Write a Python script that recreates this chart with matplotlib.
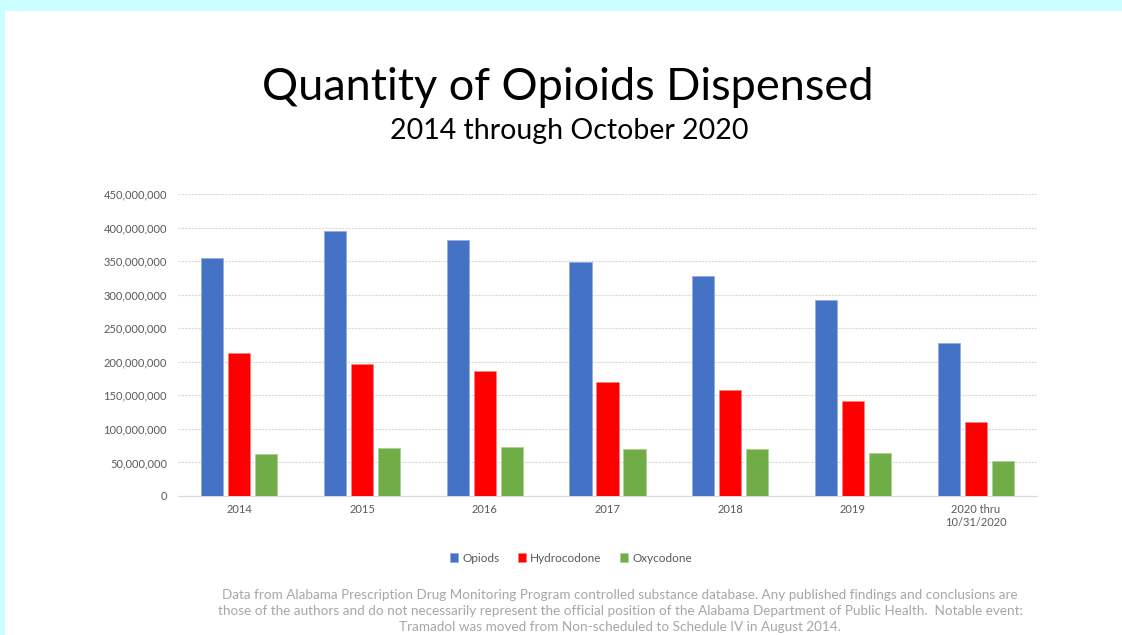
import matplotlib.pyplot as plt
import numpy as np
from matplotlib.ticker import FuncFormatter

# datos
years = ["2014", "2015", "2016", "2017", "2018", "2019", "2020 thru\n10/31/2020"]
opioids = [355e6, 395e6, 381e6, 349e6, 328e6, 292e6, 228e6]
hydrocodone = [213e6, 197e6, 186e6, 170e6, 158e6, 141e6, 110e6]
oxycodone = [63e6, 72e6, 73e6, 70e6, 70e6, 64e6, 52e6]

plt.rcParams['font.family'] = ['Lato', 'DejaVu Sans']

fig = plt.figure(figsize=(11.22, 6.35), dpi=100)
fig.patch.set_facecolor('#CCFFFF')

# panel blanco
panel = fig.add_axes([5 / 1122, 0, 1 - 5 / 1122, 1 - 11 / 635])
panel.set_facecolor('white')
panel.set_xticks([])
panel.set_yticks([])
for s in panel.spines.values():
    s.set_visible(False)

ax = fig.add_axes([178 / 1122, 1 - 496 / 635, (1037 - 178) / 1122, (496 - 194) / 635])
ax.set_facecolor('none')

x = np.arange(len(years))
w = 0.18
ax.bar(x - 0.22, opioids, w, color='#4472C4', edgecolor='#8faadc', linewidth=0.5, label='Opiods', zorder=3)
ax.bar(x, hydrocodone, w, color='#FF0000', edgecolor='#ff8080', linewidth=0.5, label='Hydrocodone', zorder=3)
ax.bar(x + 0.22, oxycodone, w, color='#70AD47', edgecolor='#a9d18e', linewidth=0.5, label='Oxycodone', zorder=3)

ax.set_xlim(-0.5, len(years) - 0.5)
ax.set_ylim(0, 450e6)
ax.set_yticks(np.arange(0, 450e6 + 1, 50e6))
ax.yaxis.set_major_formatter(FuncFormatter(lambda v, p: f"{int(v):,}"))
ax.set_xticks(x)
ax.set_xticklabels(years)
ax.tick_params(axis='both', length=0, labelsize=8, colors='#595959', pad=8)
ax.tick_params(axis='x', pad=6)
ax.grid(axis='y', color='#d9d9d9', linestyle=(0, (2, 1)), linewidth=0.8, zorder=0)
for s in ['top', 'right', 'left']:
    ax.spines[s].set_visible(False)
ax.spines['bottom'].set_color('#d9d9d9')

leg = fig.legend(loc='center', bbox_to_anchor=(571 / 1122, 1 - 558 / 635), ncol=3, frameon=False,
                 fontsize=8.5, handlelength=0.7, handleheight=0.7, handletextpad=0.3, columnspacing=1.6)
for t in leg.get_texts():
    t.set_color('#595959')

fig.text(568 / 1122, 1 - 88 / 635, "Quantity of Opioids Dispensed", ha='center', va='center',
         fontsize=32.5, color='black')
fig.text(569 / 1122, 1 - 131 / 635, "2014 through October 2020", ha='center', va='center',
         fontsize=20.5, color='black')

fig.text(620 / 1122, 1 - 611 / 635,
         "Data from Alabama Prescription Drug Monitoring Program controlled substance database. Any published findings and conclusions are\n"
         "those of the authors and do not necessarily represent the official position of the Alabama Department of Public Health.  Notable event:\n"
         "Tramadol was moved from Non-scheduled to Schedule IV in August 2014.",
         ha='center', va='center', fontsize=9.7, color='#a6a6a6', linespacing=1.4)

fig.savefig('out.png', dpi=100, facecolor=fig.get_facecolor())
